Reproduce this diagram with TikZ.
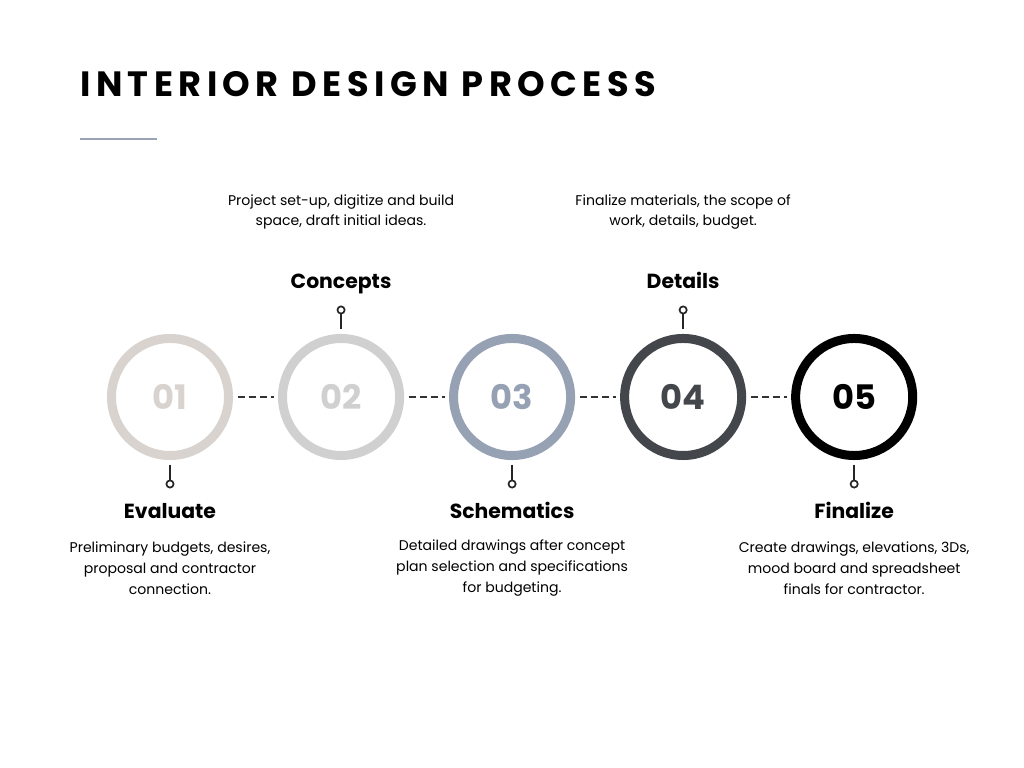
\documentclass[tikz,border=0pt]{standalone}
\usepackage{fontspec}
\setmainfont{Poppins}
\newfontfamily\titlefont[LetterSpace=15.5]{Poppins}
\usepackage{tikz}

\definecolor{stageA}{HTML}{D9D3CF}
\definecolor{stageB}{HTML}{D0D0D0}
\definecolor{stageC}{HTML}{96A1B4}
\definecolor{stageD}{HTML}{43464B}
\definecolor{stageE}{HTML}{000000}
\definecolor{rulegray}{HTML}{9AA3B5}

\begin{document}
\begin{tikzpicture}[x=0.025cm,y=0.025cm,node distance=4.275cm,
    ring/.style={circle,draw=#1,text=#1,line width=6.4pt,minimum size=2.925cm,inner sep=0pt,
      font=\fontsize{24}{24}\selectfont\bfseries},
    pindot/.style={circle,draw=black!85,fill=white,line width=1.2pt,minimum size=0.18cm,inner sep=0pt},
    stem/.style={draw=black!85,line width=1.4pt,shorten <=3.2pt},
    link/.style={draw=black!80,line width=1.4pt,dash pattern=on 5.3pt off 2.6pt,shorten <=3.2pt,shorten >=3.2pt},
    stagetitle/.style={font=\fontsize{14.5}{14.5}\selectfont\bfseries,text height=1.45ex,text depth=0pt,inner sep=0pt},
    stagetext/.style={align=center,font=\fontsize{10}{14.8}\selectfont}]
  \fill[white] (0,0) rectangle (1024,768);
  \useasboundingbox (0,0) rectangle (1024,768);

  \node[anchor=base west,inner sep=0pt,font=\titlefont\fontsize{25}{25}\selectfont\bfseries] (title) at (80,671) {INTERIOR DESIGN PROCESS};
  \draw[rulegray,line width=2.1pt] (80,629) -- (157,629);

  % the five rings
  \node[ring=stageA] (c1) at (170,371) {01};
  \node[ring=stageB] (c2) [right of=c1] {02};
  \node[ring=stageC] (c3) [right of=c2] {03};
  \node[ring=stageD] (c4) [right of=c3] {04};
  \node[ring=stageE] (c5) [right of=c4] {05};

  \foreach \a/\b in {c1/c2,c2/c3,c3/c4,c4/c5}
    \path[link] (\a) -- (\b);

  % pins
  \node[pindot] (p1) [below of=c1,node distance=2.175cm] {};
  \node[pindot] (p2) [above of=c2,node distance=2.175cm] {};
  \node[pindot] (p3) [below of=c3,node distance=2.175cm] {};
  \node[pindot] (p4) [above of=c4,node distance=2.175cm] {};
  \node[pindot] (p5) [below of=c5,node distance=2.175cm] {};
  \foreach \i in {1,...,5}
    \path[stem] (c\i) -- (p\i);

  % labels below
  \node[stagetitle] (h1) [below of=p1,node distance=0.725cm] {Evaluate};
  \node[stagetext]  (d1) [below of=h1,node distance=1.375cm] {Preliminary budgets, desires,\\ proposal and contractor\\ connection.};
  \node[stagetitle] (h3) [below of=p3,node distance=0.725cm] {Schematics};
  \node[stagetext]  (d3) [below of=h3,node distance=1.375cm] {Detailed drawings after concept\\ plan selection and specifications\\ for budgeting.};
  \node[stagetitle] (h5) [below of=p5,node distance=0.725cm] {Finalize};
  \node[stagetext]  (d5) [below of=h5,node distance=1.375cm] {Create drawings, elevations, 3Ds,\\ mood board and spreadsheet\\ finals for contractor.};

  % labels above
  \node[stagetitle] (h2) [above of=p2,node distance=0.675cm] {Concepts};
  \node[stagetext]  (d2) [above of=h2,node distance=1.775cm] {Project set-up, digitize and build\\ space, draft initial ideas.};
  \node[stagetitle] (h4) [above of=p4,node distance=0.675cm] {Details};
  \node[stagetext]  (d4) [above of=h4,node distance=1.775cm] {Finalize materials, the scope of\\ work, details, budget.};
\end{tikzpicture}
\end{document}
